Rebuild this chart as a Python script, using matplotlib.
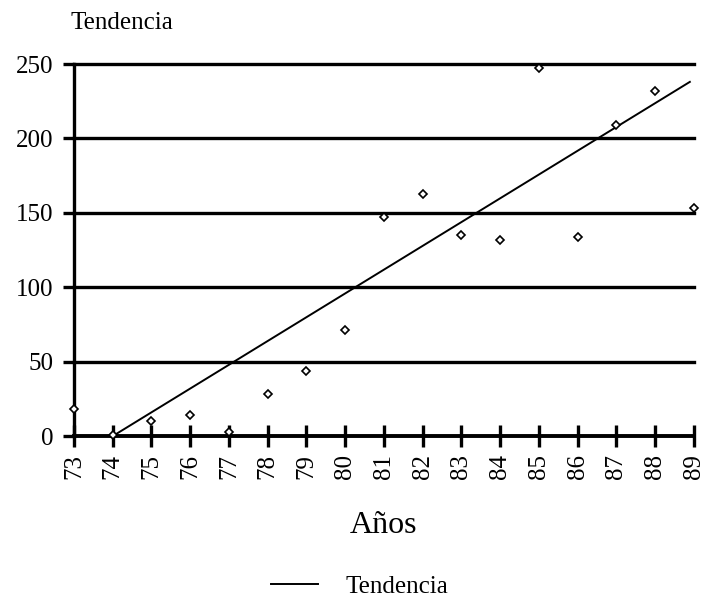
import matplotlib
matplotlib.use("Agg")
import matplotlib.pyplot as plt

years = [73, 74, 75, 76, 77, 78, 79, 80, 81, 82, 83, 84, 85, 86, 87, 88, 89]
values = [18, 1, 10, 14, 3, 28, 44, 71, 147, 163, 135, 132, 247, 134, 209, 232, 153]
trend_years = [74, 88.9]
trend_values = [0, 238]
y_ticks = [0, 50, 100, 150, 200, 250]

plt.rcParams['font.family'] = ['Liberation Serif', 'DejaVu Serif']

fig = plt.figure(figsize=(7.05, 6.04), dpi=100)
ax = fig.add_axes([0.105, 0.278, 0.879, 0.616])

for v in y_ticks[1:]:
    ax.axhline(v, color='black', lw=2.4, zorder=1, clip_on=False)

trend, = ax.plot(trend_years, trend_values, color='black', lw=1.4, zorder=3)
ax.plot(years, values, linestyle='none', marker='D', markersize=4,
        markerfacecolor='white', markeredgecolor='black', markeredgewidth=1.2,
        zorder=4, clip_on=False)

ax.set_xlim(73, 89)
ax.set_ylim(0, 250)
ax.set_xticks(years)
ax.set_xticklabels([str(y) for y in years], rotation=90, fontsize=18)
ax.set_yticks(y_ticks)
ax.set_yticklabels([str(v) for v in y_ticks], fontsize=18)

for s in ['top', 'right']:
    ax.spines[s].set_visible(False)
ax.spines['left'].set_linewidth(2.4)
ax.spines['bottom'].set_linewidth(2.8)
ax.tick_params(axis='x', direction='inout', length=16, width=2.4, pad=5)
ax.tick_params(axis='y', direction='out', length=8, width=2.4, pad=7)

ax.set_xlabel('Años', fontsize=23, labelpad=23)
fig.text(0.10, 0.962, 'Tendencia', fontsize=18, ha='left', va='center')

fig.legend(handles=[trend], labels=['Tendencia'], loc='center',
           bbox_to_anchor=(0.51, 0.029), frameon=False, fontsize=18,
           handlelength=1.9, handletextpad=1.1)

fig.savefig('out.png', dpi=100)
